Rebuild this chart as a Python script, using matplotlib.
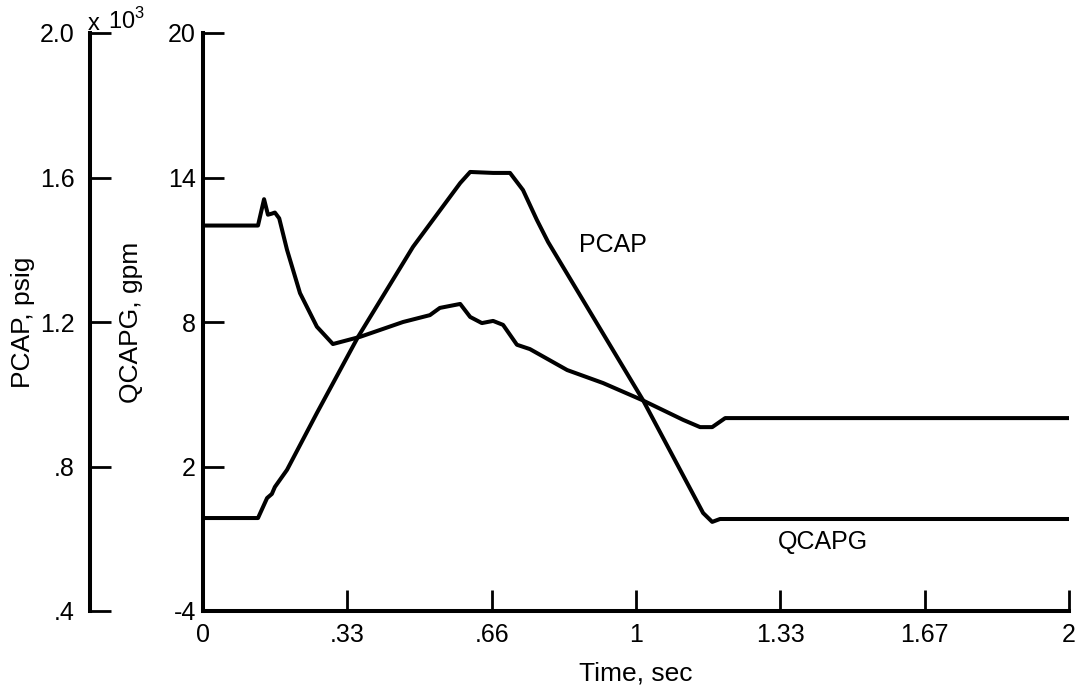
import matplotlib
matplotlib.use("Agg")
import matplotlib.pyplot as plt

plt.rcParams['font.family'] = ['Liberation Sans', 'DejaVu Sans']
plt.rcParams['mathtext.fontset'] = 'custom'
plt.rcParams['mathtext.rm'] = 'Liberation Sans'

# time axis
time_ticks = [0, 1/3, 2/3, 1, 4/3, 5/3, 2]
time_labels = ['0', '.33', '.66', '1', '1.33', '1.67', '2']

# QCAPG, gpm (inner axis)
qcapg_ticks = [-4, 2, 8, 14, 20]
qcapg_labels = ['-4', '2', '8', '14', '20']
qcapg_t = [0, 0.127, 0.148, 0.159, 0.166, 0.194, 0.263, 0.358, 0.485, 0.594,
           0.617, 0.670, 0.709, 0.739, 0.771, 0.797, 1.016, 1.155, 1.176, 1.194, 2.0]
qcapg = [-0.14, -0.14, 0.69, 0.86, 1.15, 1.86, 4.22, 7.38, 11.12, 13.77,
         14.23, 14.19, 14.19, 13.48, 12.24, 11.32, 4.76, 0.07, -0.30, -0.18, -0.18]

# PCAP, x10^3 psig (outer axis)
pcap_ticks = [0.4, 0.8, 1.2, 1.6, 2.0]
pcap_labels = ['.4', '.8', '1.2', '1.6', '2.0']
pcap_t = [0, 0.127, 0.141, 0.150, 0.159, 0.166, 0.176, 0.194, 0.224, 0.263,
          0.300, 0.363, 0.462, 0.524, 0.547, 0.594, 0.617, 0.644, 0.670, 0.693,
          0.725, 0.755, 0.841, 0.924, 1.014, 1.109, 1.148, 1.176, 1.206, 2.0]
pcap = [1.467, 1.467, 1.540, 1.497, 1.500, 1.503, 1.487, 1.400, 1.280, 1.187,
        1.139, 1.159, 1.200, 1.219, 1.239, 1.250, 1.214, 1.197, 1.203, 1.192,
        1.137, 1.125, 1.067, 1.031, 0.984, 0.929, 0.909, 0.909, 0.934, 0.934]

fig = plt.figure(figsize=(10.76, 6.91), dpi=100)
ax = fig.add_axes([203/1076, 80/691, 866/1076, 578/691])
ax2 = ax.twinx()

lw = 2.9
ax.plot(qcapg_t, qcapg, color='black', lw=lw, solid_joinstyle='round')
ax2.plot(pcap_t, pcap, color='black', lw=lw, solid_joinstyle='round')

ax.set_xlim(0, 2)
ax.set_ylim(-4, 20)
ax2.set_ylim(0.4, 2.0)

for s in ['top', 'right']:
    ax.spines[s].set_visible(False)
for s in ['top', 'right', 'bottom']:
    ax2.spines[s].set_visible(False)
for s in ['left', 'bottom']:
    ax.spines[s].set_linewidth(2.9)

ax.set_xticks(time_ticks, time_labels)
ax.set_yticks(qcapg_ticks, qcapg_labels)
ax.tick_params(axis='x', direction='in', length=15, width=2, pad=9, labelsize=18)
ax.tick_params(axis='y', direction='in', length=15, width=2, pad=5, labelsize=18)

# outer PCAP axis on the left
ax2.yaxis.tick_left()
ax2.yaxis.set_label_position('left')
ax2.spines['left'].set_visible(True)
ax2.spines['left'].set_position(('axes', -113/866))
ax2.spines['left'].set_linewidth(2.9)
ax2.set_yticks(pcap_ticks, pcap_labels)
ax2.set_yticks([0.4], minor=True)
ax2.tick_params(axis='y', which='major', direction='in', length=15, width=2,
                pad=11, labelsize=18)
ax2.tick_params(axis='y', which='minor', direction='in', length=27, width=2.9)

ax.set_xlabel('Time, sec', fontsize=19, labelpad=10)
ax.set_ylabel('QCAPG, gpm', fontsize=19)
ax.yaxis.set_label_coords(-60/866, 0.5)
ax2.set_ylabel('PCAP, psig', fontsize=19)
ax2.yaxis.set_label_coords(-168/866, 0.5)

fig.text(88/1076, 1 - 30/691, 'x', fontsize=17, va='baseline', ha='left')
fig.text(108/1076, 1 - 29/691, r'10$^3$', fontsize=17, va='baseline', ha='left')

ax.text(0.947, 11.2, 'PCAP', fontsize=18, ha='center', va='center')
ax.text(1.432, -1.13, 'QCAPG', fontsize=18, ha='center', va='center')

fig.savefig('out.png', dpi=100)
